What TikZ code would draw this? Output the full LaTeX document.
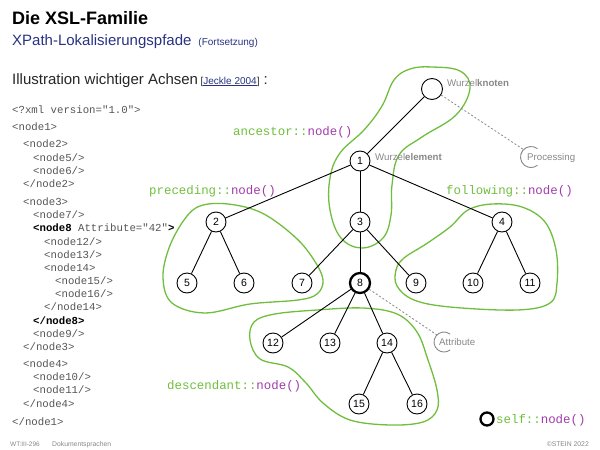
\documentclass[tikz,border=0pt]{standalone}
\usepackage{fontspec}
\usetikzlibrary{calc}
\setmainfont{Liberation Sans}
\setmonofont{Liberation Mono}
\definecolor{grn}{RGB}{112,190,62}
\definecolor{prp}{RGB}{160,60,170}
\definecolor{ttl}{RGB}{40,50,130}
\definecolor{codegray}{RGB}{85,85,85}
\definecolor{lgray}{RGB}{135,135,135}
\tikzset{
  tnode/.style={circle, draw, fill=white, minimum size=20pt, inner sep=0pt, line width=0.9pt, font=\fontsize{10.5}{12}\selectfont},
  tedge/.style={line width=0.9pt},
  contour/.style={draw=grn, line width=1.3pt},
  code/.style={anchor=base west, inner sep=0pt, text=codegray, font=\fontsize{10.7}{12}\selectfont\ttfamily},
  axislabel/.style={anchor=base west, inner sep=0pt, text=grn, font=\fontsize{12.4}{14}\selectfont\ttfamily},
  note/.style={anchor=base west, inner sep=0pt, text=lgray, font=\fontsize{9.7}{11}\selectfont},
  dashedlink/.style={draw=lgray, line width=0.8pt, dash pattern=on 2pt off 2pt},
  arcline/.style={draw=lgray, line width=0.9pt}
}
\begin{document}
\begin{tikzpicture}[x=1pt,y=-1pt]
\useasboundingbox (0,0) rectangle (600,450);

% header
\node[anchor=base west, inner sep=0pt, font=\fontsize{18}{20}\selectfont\bfseries] (title) at (12,24) {Die XSL-Familie};
\node[anchor=base west, inner sep=0pt, text=ttl, font=\fontsize{15}{17}\selectfont] (subtitle) at (12,45.5) {XPath-Lokalisierungspfade {\fontsize{10}{12}\selectfont\ (Fortsetzung)}};
\node[anchor=base west, inner sep=0pt, text=black!85, font=\fontsize{15}{17}\selectfont] (intro) at (12,84) {Illustration wichtiger Achsen\,{\fontsize{10}{12}\selectfont[\textcolor{ttl}{\underline{Jeckle 2004}}]}\ :};

% code listing
\node[code] (c1) at (12,113.5) {<?xml version="1.0">};
\node[code] (c2) at (12,130.5) {<node1>};
\node[code] (c3) at (23,147.5) {<node2>};
\node[code] (c4) at (33,161.5) {<node5/>};
\node[code] (c5) at (33,174.5) {<node6/>};
\node[code] (c6) at (23,187.5) {</node2>};
\node[code] (c7) at (23,205.5) {<node3>};
\node[code] (c8) at (33,218.5) {<node7/>};
\node[code] (c9) at (33,231.5) {\textcolor{black}{\bfseries <node8} Attribute="42"\textcolor{black}{\bfseries >}};
\node[code] (c10) at (44,245.5) {<node12/>};
\node[code] (c11) at (44,258.5) {<node13/>};
\node[code] (c12) at (44,271.5) {<node14>};
\node[code] (c13) at (55,284.5) {<node15/>};
\node[code] (c14) at (55,297.5) {<node16/>};
\node[code] (c15) at (44,310.5) {</node14>};
\node[code, text=black, font=\fontsize{10.7}{12}\selectfont\ttfamily\bfseries] (c16) at (33,324.5) {</node8>};
\node[code] (c17) at (33,337.5) {<node9/>};
\node[code] (c18) at (23,350.5) {</node3>};
\node[code] (c19) at (23,367.5) {<node4>};
\node[code] (c20) at (33,380.5) {<node10/>};
\node[code] (c21) at (33,393.5) {<node11/>};
\node[code] (c22) at (23,407.5) {</node4>};
\node[code] (c23) at (12,425.5) {</node1>};

% contours
\draw[contour] plot[smooth cycle, tension=0.65] coordinates {(432,67) (460,71) (470,88) (456,115) (422,137) (399,155) (392,185) (391,215) (383,238) (362,248) (341,238) (330,210) (330,178) (340,153) (364,130) (382,106) (394,80) (410,69)};
\draw[contour] plot[smooth cycle, tension=0.6] coordinates {(200,206) (228,204) (262,213) (295,237) (314,260) (323,280) (317,294) (298,300) (250,304) (205,313) (172,303) (163,278) (169,248) (184,220)};
\draw[contour] plot[smooth cycle, tension=0.6] coordinates {(404,258) (426,244) (450,227) (468,210) (492,204) (522,207) (545,222) (556,250) (557,283) (550,303) (517,310) (450,307) (414,300) (397,286) (396,270)};
\draw[contour] plot[smooth cycle, tension=0.6] coordinates {(317,310) (363,308) (397,314) (417,332) (428,360) (437,390) (437,410) (423,422) (390,425) (350,420) (323,403) (306,383) (288,367) (260,359) (250,340) (254,322) (275,314)};

% tree nodes
\node[tnode, minimum size=21pt] (root) at (432,89) {};
\node[tnode] (n1) at (360,161) {1};
\node[tnode] (n2) at (216,222) {2};
\node[tnode] (n3) at (360,222) {3};
\node[tnode] (n4) at (502,222) {4};
\node[tnode] (n5) at (187,283) {5};
\node[tnode] (n6) at (244,283) {6};
\node[tnode] (n7) at (302,283) {7};
\node[tnode, line width=2.3pt] (n8) at (360,283) {8};
\node[tnode] (n9) at (416,283) {9};
\node[tnode] (n10) at (473,283) {10};
\node[tnode] (n11) at (530,283) {11};
\node[tnode] (n12) at (273,343) {12};
\node[tnode] (n13) at (330,343) {13};
\node[tnode] (n14) at (387,343) {14};
\node[tnode] (n15) at (359,404) {15};
\node[tnode] (n16) at (417,404) {16};

% tree edges
\draw[tedge] (root) -- (n1);
\draw[tedge] (n1) -- (n2);
\draw[tedge] (n1) -- (n3);
\draw[tedge] (n1) -- (n4);
\draw[tedge] (n2) -- (n5);
\draw[tedge] (n2) -- (n6);
\draw[tedge] (n3) -- (n7);
\draw[tedge] (n3) -- (n8);
\draw[tedge] (n3) -- (n9);
\draw[tedge] (n4) -- (n10);
\draw[tedge] (n4) -- (n11);
\draw[tedge] (n8) -- (n12);
\draw[tedge] (n8) -- (n13);
\draw[tedge] (n8) -- (n14);
\draw[tedge] (n14) -- (n15);
\draw[tedge] (n14) -- (n16);

% annotations
\node[note] (wk) at (447,86.5) {Wurzel\textbf{knoten}};
\node[note] (we) at (375,160.5) {Wurzel\textbf{element}};

\coordinate (procc) at (531,157);
\draw[arcline] (procc) ++(-52:10.5) arc[start angle=-52, end angle=-308, radius=10.5];
\coordinate (procend) at ($(procc)+(-135:10.5)$);
\node[note] (proc) at (527,160.5) {Processing};
\draw[dashedlink] (root) -- (procend);

\coordinate (attc) at (444,342);
\draw[arcline] (attc) ++(-52:10) arc[start angle=-52, end angle=-308, radius=10];
\coordinate (attend) at ($(attc)+(-135:10)$);
\node[note] (att) at (439,345.5) {Attribute};
\draw[dashedlink] (n8) -- (attend);

% axis labels
\node[axislabel] (anc) at (233,135) {ancestor::\textcolor{prp}{node()}};
\node[axislabel] (prec) at (149,194) {preceding::\textcolor{prp}{node()}};
\node[axislabel] (foll) at (446,194) {following::\textcolor{prp}{node()}};
\node[axislabel] (desc) at (167,389) {descendant::\textcolor{prp}{node()}};
\node[circle, draw, line width=2.3pt, minimum size=13pt, inner sep=0pt] (selfc) at (487,419) {};
\node[axislabel] (selft) at (496,423) {self::\textcolor{prp}{node()}};

% footer
\node[anchor=base west, inner sep=0pt, text=lgray, font=\fontsize{6.5}{8}\selectfont] (f1) at (10,446.5) {WT:III-296};
\node[anchor=base west, inner sep=0pt, text=lgray, font=\fontsize{6.8}{8}\selectfont] (f2) at (52,446.5) {Dokumentsprachen};
\node[anchor=base east, inner sep=0pt, text=lgray, font=\fontsize{6.8}{8}\selectfont] (f3) at (589,446.5) {©STEIN 2022};
\end{tikzpicture}
\end{document}
